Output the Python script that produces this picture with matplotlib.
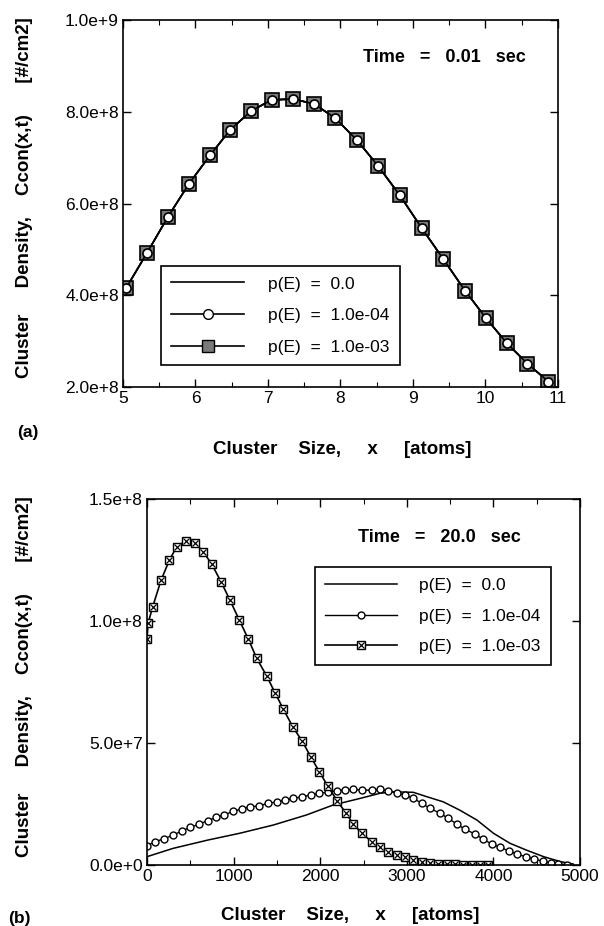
import numpy as np
import matplotlib
matplotlib.use("Agg")
import matplotlib.pyplot as plt
from matplotlib.ticker import FuncFormatter, MultipleLocator

plt.rcParams['font.family'] = ['Liberation Sans', 'DejaVu Sans']

# panel (a): time = 0.01 sec, all three p(E) curves coincide
xa = [5.04, 5.33, 5.62, 5.91, 6.20, 6.48, 6.77, 7.05, 7.35, 7.64, 7.93,
      8.23, 8.52, 8.82, 9.12, 9.42, 9.72, 10.01, 10.30, 10.58, 10.87]
ya = [4.15e8, 4.92e8, 5.71e8, 6.43e8, 7.05e8, 7.61e8, 8.02e8, 8.26e8, 8.28e8,
      8.17e8, 7.86e8, 7.38e8, 6.82e8, 6.18e8, 5.47e8, 4.79e8, 4.10e8, 3.50e8,
      2.95e8, 2.51e8, 2.12e8]

# panel (b): time = 20.0 sec
xb_p0 = [0, 300, 700, 1070, 1460, 1840, 2150, 2460, 2690, 2840, 3075, 3230,
         3420, 3610, 3810, 4000, 4190, 4380, 4580, 4770, 4920]
yb_p0 = [0.34e7, 0.68e7, 1.02e7, 1.30e7, 1.64e7, 2.05e7, 2.46e7, 2.73e7, 2.94e7,
         3.00e7, 2.98e7, 2.80e7, 2.59e7, 2.25e7, 1.84e7, 1.30e7, 0.89e7, 0.61e7,
         0.34e7, 0.14e7, 0.04e7]

xb_p4 = [0, 92, 196, 304, 400, 497, 600, 700, 797, 893, 997, 1093, 1189, 1293,
         1393, 1497, 1594, 1690, 1793, 1890, 1990, 2086, 2190, 2286, 2382, 2479,
         2594, 2690, 2786, 2883, 2979, 3075, 3172, 3268, 3383, 3479, 3576, 3672,
         3788, 3883, 3980, 4076, 4184, 4276, 4373, 4469, 4569, 4661, 4749, 4846]
yb_p4 = [0.78e7, 0.96e7, 1.07e7, 1.23e7, 1.39e7, 1.54e7, 1.67e7, 1.82e7, 1.95e7,
         2.06e7, 2.20e7, 2.30e7, 2.39e7, 2.42e7, 2.53e7, 2.58e7, 2.66e7, 2.73e7,
         2.80e7, 2.87e7, 2.94e7, 2.98e7, 3.05e7, 3.07e7, 3.10e7, 3.07e7, 3.07e7,
         3.10e7, 3.05e7, 2.94e7, 2.87e7, 2.73e7, 2.53e7, 2.32e7, 2.12e7, 1.91e7,
         1.68e7, 1.46e7, 1.27e7, 1.05e7, 0.86e7, 0.72e7, 0.57e7, 0.44e7, 0.34e7,
         0.25e7, 0.15e7, 0.10e7, 0.04e7, 0.01e7]

xb_p3 = [0, 12, 66, 162, 258, 343, 447, 554, 650, 747, 855, 958, 1066, 1170,
         1267, 1382, 1478, 1574, 1682, 1793, 1890, 1990, 2086, 2198, 2294, 2382,
         2479, 2594, 2690, 2786, 2883, 2979, 3075, 3172, 3268, 3364, 3460, 3556,
         3652, 3748, 3845, 3933]
yb_p3 = [9.25e7, 9.91e7, 10.59e7, 11.68e7, 12.50e7, 13.05e7, 13.29e7, 13.21e7,
         12.84e7, 12.34e7, 11.61e7, 10.86e7, 10.04e7, 9.26e7, 8.47e7, 7.75e7,
         7.06e7, 6.39e7, 5.67e7, 5.07e7, 4.44e7, 3.82e7, 3.24e7, 2.62e7, 2.14e7,
         1.68e7, 1.30e7, 0.96e7, 0.75e7, 0.55e7, 0.41e7, 0.31e7, 0.20e7, 0.13e7,
         0.07e7, 0.05e7, 0.03e7, 0.02e7, 0.01e7, 0.005e7, 0.0, 0.0]

labels = ['p(E)  =  0.0', 'p(E)  =  1.0e-04', 'p(E)  =  1.0e-03']
ylab = 'Cluster     Density,    Ccon(x,t)      [#/cm2]'
xlab = 'Cluster    Size,     x     [atoms]'


def sci(v, pos):
    if v == 0:
        return '0.0e+0'
    e = int(np.floor(np.log10(abs(v))))
    return '%.1fe+%d' % (v / 10**e, e)


def style_axes(ax):
    ax.tick_params(direction='in', top=True, right=True, length=6, width=1,
                   labelsize=12.5, pad=3)
    ax.tick_params(which='minor', direction='in', top=True, right=True,
                   length=3.5, width=0.8)
    for s in ax.spines.values():
        s.set_linewidth(1.2)
    ax.yaxis.set_major_formatter(FuncFormatter(sci))


fig = plt.figure(figsize=(6.04, 9.26), dpi=100)

# ---- (a)
ax1 = fig.add_axes([0.2036, 0.582, 0.720, 0.3963])
l0, = ax1.plot(xa, ya, '-', color='black', lw=1.2)
l3, = ax1.plot(xa, ya, '-', color='black', lw=1.2, marker='s', ms=10,
               mfc='#7a7a7a', mec='black', mew=1.2)
l4, = ax1.plot(xa, ya, '-', color='black', lw=1.2, marker='o', ms=6.5,
               mfc='white', mec='black', mew=1.2)
ax1.set_xlim(5, 11)
ax1.set_ylim(2e8, 1e9)
ax1.xaxis.set_major_locator(MultipleLocator(1))
ax1.xaxis.set_minor_locator(MultipleLocator(0.5))
ax1.yaxis.set_major_locator(MultipleLocator(2e8))
style_axes(ax1)
ax1.text(0.74, 0.897, 'Time   =   0.01   sec', transform=ax1.transAxes,
         ha='center', va='center', fontsize=13, fontweight='bold')
h4 = plt.Line2D([], [], color='black', lw=1.2, marker='o', ms=7,
                mfc='white', mec='black')
h3 = plt.Line2D([], [], color='black', lw=1.2, marker='s', ms=9,
                mfc='#7a7a7a', mec='black')
leg = ax1.legend([l0, h4, h3], labels, loc='upper left',
                 bbox_to_anchor=(0.087, 0.330), fontsize=12.5, handlelength=4.2,
                 handletextpad=1.4, labelspacing=0.95, borderpad=0.6,
                 fancybox=False, framealpha=1, edgecolor='black',
                 borderaxespad=0)
leg.get_frame().set_linewidth(1.2)

fig.text(17 / 604, 1 - 433 / 926, '(a)', fontsize=12.5, fontweight='bold',
         ha='left', va='center')
fig.text(342 / 604, 1 - 450 / 926, xlab, fontsize=13.5,
         fontweight='bold', ha='center', va='center')
fig.text(25 / 604, 1 - 198 / 926, ylab,
         fontsize=13.5, fontweight='bold', rotation=90, ha='center', va='center')

# ---- (b)
ax2 = fig.add_axes([0.2434, 0.0659, 0.717, 0.395])
m0, = ax2.plot(xb_p0, yb_p0, '-', color='black', lw=1.1)
m4, = ax2.plot(xb_p4, yb_p4, '-', color='black', lw=1.0, marker='o', ms=5,
               mfc='white', mec='black', mew=1.0)
m3, = ax2.plot(xb_p3, yb_p3, '-', color='black', lw=1.2, marker='s', ms=5.5,
               mfc='white', mec='black', mew=1.0)
m3x, = ax2.plot(xb_p3, yb_p3, ls='none', marker='x', ms=4.5, mec='black',
                mew=0.9)
ax2.set_xlim(0, 5000)
ax2.set_ylim(0, 1.5e8)
ax2.xaxis.set_major_locator(MultipleLocator(1000))
ax2.xaxis.set_minor_locator(MultipleLocator(500))
ax2.yaxis.set_major_locator(MultipleLocator(5e7))
style_axes(ax2)
ax2.text(0.675, 0.895, 'Time   =   20.0   sec', transform=ax2.transAxes,
         ha='center', va='center', fontsize=13, fontweight='bold')
leg2 = ax2.legend([m0, m4, (m3, m3x)], labels, loc='upper left',
                  bbox_to_anchor=(0.388, 0.814), fontsize=12.5, handlelength=4.1,
                  handletextpad=1.3, labelspacing=0.9, borderpad=0.6,
                  fancybox=False, framealpha=1, edgecolor='black',
                  borderaxespad=0)
leg2.get_frame().set_linewidth(1.2)

fig.text(8 / 604, 1 - 918 / 926, '(b)', fontsize=12.5, fontweight='bold',
         ha='left', va='center')
fig.text(350 / 604, 1 - 916 / 926, xlab, fontsize=13.5,
         fontweight='bold', ha='center', va='center')
fig.text(25 / 604, 1 - 677 / 926, ylab,
         fontsize=13.5, fontweight='bold', rotation=90, ha='center', va='center')

fig.savefig('out.png', dpi=100)
